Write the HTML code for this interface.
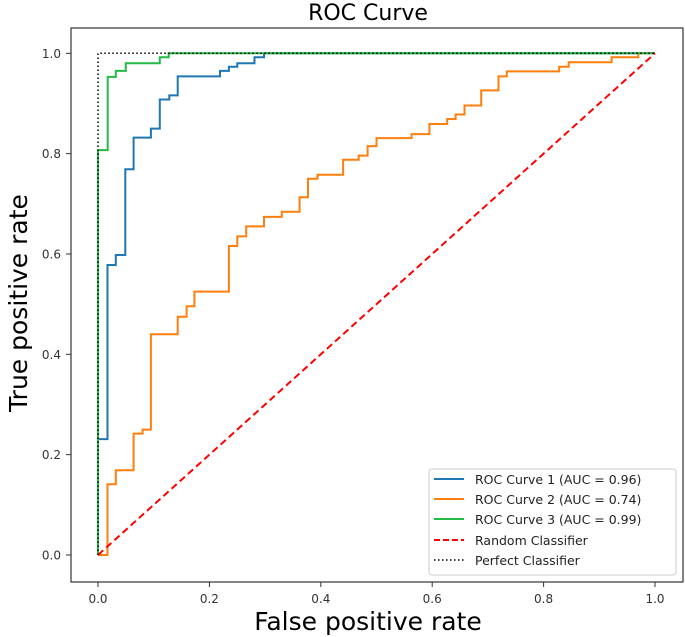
<!DOCTYPE html>
<html><head><meta charset="utf-8"><style>
body{margin:0;background:#fff;}
svg{display:block;font-family:"DejaVu Sans","Liberation Sans",sans-serif;}
</style></head><body>
<svg id="chart" width="685" height="637" viewBox="0 0 685 637" xmlns="http://www.w3.org/2000/svg">
<rect width="685" height="637" fill="#fff"/>
<text x="368" y="20" font-size="22" text-anchor="middle" fill="#000">ROC Curve</text>
<g id="plot"></g>
<rect x="71" y="28" width="612" height="554" fill="none" stroke="#333" stroke-width="1.2"/>
<text x="368" y="630" font-size="25" text-anchor="middle" fill="#000">False positive rate</text>
<text transform="translate(27,303) rotate(-90)" font-size="25" text-anchor="middle" fill="#000">True positive rate</text>
<g>
<rect x="429" y="469" width="247" height="106" rx="3" fill="#fff" fill-opacity="0.8" stroke="#ccc"/>
<line x1="434" y1="479" x2="464" y2="479" stroke="#1f77b4" stroke-width="2"/>
<text x="475" y="484" font-size="12.5" fill="#222">ROC Curve 1 (AUC = 0.96)</text>
<line x1="434" y1="499" x2="464" y2="499" stroke="#ff7f0e" stroke-width="2"/>
<text x="475" y="504" font-size="12.5" fill="#222">ROC Curve 2 (AUC = 0.74)</text>
<line x1="434" y1="519" x2="464" y2="519" stroke="#2ca02c" stroke-width="2" style="stroke:#22bb44"/>
<text x="475" y="524" font-size="12.5" fill="#222">ROC Curve 3 (AUC = 0.99)</text>
<line x1="434" y1="540" x2="464" y2="540" stroke="#f00" stroke-width="2" stroke-dasharray="6,3"/>
<text x="475" y="545" font-size="12.5" fill="#222">Random Classifier</text>
<line x1="434" y1="560" x2="464" y2="560" stroke="#000" stroke-width="1.5" stroke-dasharray="1.5,2.5"/>
<text x="475" y="565" font-size="12.5" fill="#222">Perfect Classifier</text>
</g>
</svg>
<script>
const xTicks=[0,0.2,0.4,0.6,0.8,1.0];
const yTicks=[0,0.2,0.4,0.6,0.8,1.0];
const curve1Fpr=[0,0,0.017,0.017,0.032,0.032,0.049,0.049,0.064,0.064,0.095,0.095,0.111,0.111,0.128,0.128,0.143,0.143,0.219,0.219,0.235,0.235,0.25,0.25,0.281,0.281,0.298,0.298,1];
const curve1Tpr=[0,0.231,0.231,0.578,0.578,0.598,0.598,0.769,0.769,0.832,0.832,0.85,0.85,0.908,0.908,0.916,0.916,0.954,0.954,0.965,0.965,0.973,0.973,0.98,0.98,0.992,0.992,1,1];
const curve2Fpr=[0,0.017,0.017,0.032,0.032,0.064,0.064,0.080,0.080,0.095,0.095,0.143,0.143,0.159,0.159,0.173,0.173,0.235,0.235,0.25,0.25,0.266,0.266,0.298,0.298,0.330,0.330,0.362,0.362,0.377,0.377,0.394,0.394,0.440,0.440,0.468,0.468,0.484,0.484,0.5,0.5,0.563,0.563,0.595,0.595,0.627,0.627,0.642,0.642,0.658,0.658,0.688,0.688,0.719,0.719,0.734,0.734,0.828,0.828,0.845,0.845,0.922,0.922,0.970,0.970,1];
const curve2Tpr=[0,0,0.141,0.141,0.169,0.169,0.242,0.242,0.250,0.250,0.440,0.440,0.475,0.475,0.496,0.496,0.525,0.525,0.616,0.616,0.635,0.635,0.655,0.655,0.674,0.674,0.684,0.684,0.713,0.713,0.750,0.750,0.758,0.758,0.788,0.788,0.796,0.796,0.815,0.815,0.831,0.831,0.839,0.839,0.859,0.859,0.869,0.869,0.878,0.878,0.896,0.896,0.926,0.926,0.954,0.954,0.964,0.964,0.973,0.973,0.982,0.982,0.992,0.992,1,1];
const curve3Fpr=[0,0,0.0174,0.0174,0.032,0.032,0.05,0.05,0.111,0.111,0.127,0.127,1];
const curve3Tpr=[0,0.807,0.807,0.953,0.953,0.965,0.965,0.98,0.98,0.992,0.992,1,1];
const randomFpr=[0,1];
const randomTpr=[0,1];
const perfectFpr=[0,0,1];
const perfectTpr=[0,1,1];

const X0=98,X1=655,Y0=555,Y1=53.3;
function sx(v){return X0+v*(X1-X0);}
function sy(v){return Y0-v*(Y0-Y1);}
const NS="http://www.w3.org/2000/svg";
const g=document.getElementById('plot');
function mk(tag,attrs){const e=document.createElementNS(NS,tag);for(const k in attrs)e.setAttribute(k,attrs[k]);g.appendChild(e);return e;}
xTicks.forEach(t=>{
  const l=mk('line',{x1:sx(t),x2:sx(t),y1:582,y2:587,stroke:'#333'});
  
  
  const tx=mk('text',{x:sx(t),y:603,'font-size':12,'text-anchor':'middle',fill:'#333'});
  tx.textContent=t.toFixed(1);
  
  
});
yTicks.forEach(t=>{
  const l=mk('line',{x1:66,x2:71,y1:sy(t),y2:sy(t),stroke:'#333'});
  
  
  const tx=mk('text',{x:61,y:sy(t)+4.5,'font-size':12,'text-anchor':'end',fill:'#333'});
  tx.textContent=t.toFixed(1);
  
  
});
function line(xs,ys,stroke,w,dash,name){
  const p=xs.map((x,i)=>(i?'L':'M')+sx(x).toFixed(1)+','+sy(ys[i]).toFixed(1)).join('');
  const e=mk('path',{d:p,fill:'none',stroke:stroke,'stroke-width':w});
  if(dash)e.setAttribute('stroke-dasharray',dash);
  
  
}
line(curve1Fpr,curve1Tpr,'#1f77b4',2,null,'roc-curve-1');
line(curve2Fpr,curve2Tpr,'#ff7f0e',2,null,'roc-curve-2');
line(curve3Fpr,curve3Tpr,'#22bb44',2,null,'roc-curve-3');
line(randomFpr,randomTpr,'#f00',2,'7,4','random-classifier-line');
line(perfectFpr,perfectTpr,'#000',1.5,'1.5,2.5','perfect-classifier-line');
</script>
</body></html>
